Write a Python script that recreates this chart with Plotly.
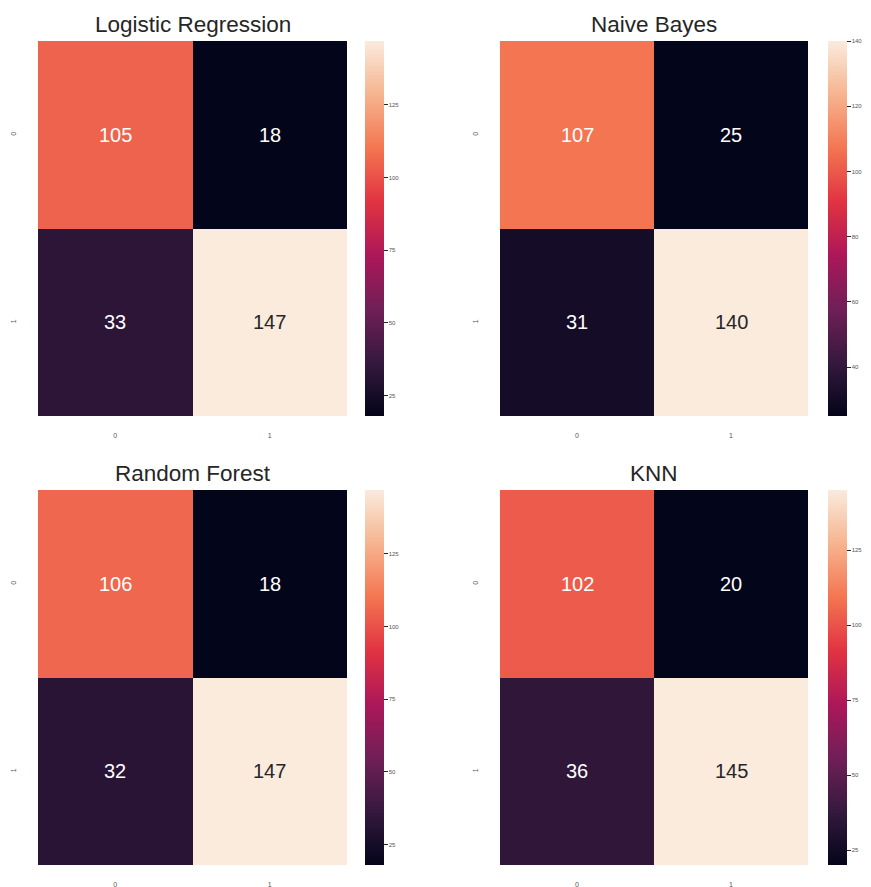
import plotly.graph_objects as go

titles = ["Logistic Regression", "Naive Bayes", "Random Forest", "KNN"]
lr_cm = [[105, 18], [33, 147]]
nb_cm = [[107, 25], [31, 140]]
rf_cm = [[106, 18], [32, 147]]
knn_cm = [[102, 20], [36, 145]]
matrices = [lr_cm, nb_cm, rf_cm, knn_cm]
tick_labels = ["0", "1"]
cbar_dticks = [25, 20, 25, 25]

rocket = [
    [0.0, "#03051a"],
    [1/7, "#35193e"],
    [2/7, "#701f57"],
    [3/7, "#ad1759"],
    [4/7, "#e13342"],
    [5/7, "#f37651"],
    [6/7, "#f6b48f"],
    [1.0, "#faebdd"],
]

W, H = 871, 887
# pixel boxes for heatmaps in window coords: (x0, x1, y0, y1)
boxes = [(38, 347, 41, 416), (500, 808, 41, 416), (38, 347, 490, 865), (500, 808, 490, 865)]
cbar_x = [365, 828, 365, 828]

fig = go.Figure()
font_family = "Liberation Sans, Arial, sans-serif"
annotations = []
for i, (m, t) in enumerate(zip(matrices, titles)):
    x0, x1, y0, y1 = boxes[i]
    xa = "x" if i == 0 else f"x{i+1}"
    ya = "y" if i == 0 else f"y{i+1}"
    zmin = min(min(r) for r in m)
    zmax = max(max(r) for r in m)
    fig.add_trace(go.Heatmap(
        z=m, x=tick_labels, y=tick_labels, xaxis=xa, yaxis=ya,
        colorscale=rocket, zmin=zmin, zmax=zmax, xgap=0, ygap=0,
        hoverinfo="z",
        colorbar=dict(
            x=cbar_x[i] / W, xanchor="left", xpad=0, ypad=0,
            y=1 - (y0 + y1) / 2 / H, yanchor="middle",
            len=(y1 - y0), lenmode="pixels", thickness=19,
            outlinewidth=0, ticks="outside", ticklen=4, tickwidth=1,
            tickcolor="#262626", dtick=cbar_dticks[i], tick0=0,
            tickfont=dict(size=6, color="#555555", family=font_family),
        ),
    ))
    axkey_x = "xaxis" if i == 0 else f"xaxis{i+1}"
    axkey_y = "yaxis" if i == 0 else f"yaxis{i+1}"
    fig.update_layout({
        axkey_x: dict(domain=[x0 / W, x1 / W], anchor=ya, showgrid=False, zeroline=False,
                      showline=False, ticks="outside", ticklen=13, tickcolor="rgba(0,0,0,0)",
                      tickfont=dict(size=7, color="#555555", family=font_family)),
        axkey_y: dict(domain=[1 - y1 / H, 1 - y0 / H], anchor=xa, autorange="reversed",
                      showgrid=False, zeroline=False, showline=False, ticks="outside",
                      ticklen=18, tickcolor="rgba(0,0,0,0)", tickangle=-90,
                      tickfont=dict(size=7, color="#555555", family=font_family)),
    })
    annotations.append(dict(
        text=t, x=(x0 + x1) / 2 / W, y=1 - (y0 - 17) / H, xref="paper", yref="paper",
        xanchor="center", yanchor="middle", showarrow=False,
        font=dict(size=22.5, color="#262626", family=font_family),
    ))
    for r in range(2):
        for c in range(2):
            v = m[r][c]
            frac = (v - zmin) / (zmax - zmin)
            col = "#262626" if frac > 0.85 else "#ffffff"
            annotations.append(dict(
                text=str(v), x=tick_labels[c], y=tick_labels[r], xref=xa, yref=ya,
                showarrow=False, font=dict(size=20, color=col, family=font_family),
            ))

fig.update_layout(
    width=W, height=H, margin=dict(l=0, r=0, t=0, b=0),
    paper_bgcolor="white", plot_bgcolor="white",
    annotations=annotations, showlegend=False,
)
post = ("document.documentElement.style.margin='0';"
        "document.documentElement.style.padding='0';"
        "document.documentElement.style.overflow='hidden';"
        "document.body.style.margin='0';"
        "document.body.style.padding='0';"
        "document.body.style.overflow='hidden';")
fig.write_html("out.html", post_script=post, config={"displayModeBar": False})
